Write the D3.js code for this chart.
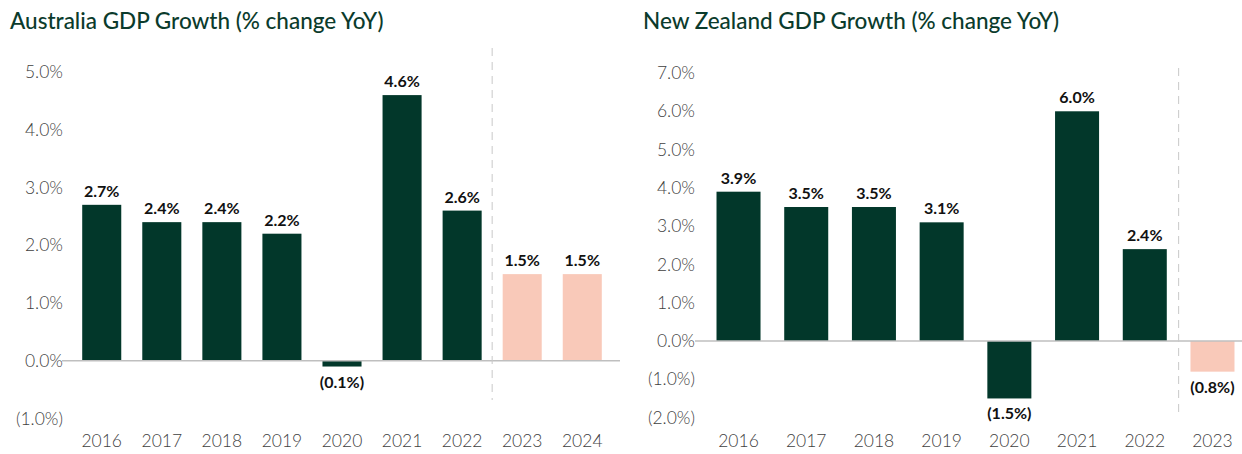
<!DOCTYPE html>
<html>
<head>
<meta charset="utf-8">
<script src="https://cdn.jsdelivr.net/npm/d3@7"></script>
<style>
  body { margin: 0; background: #fff; }
  svg text { font-family: Lato, "Open Sans", sans-serif; }
</style>
</head>
<body>
<div id="chart"></div>
<script>
// Australia
let auYears = ['2016', '2017', '2018', '2019', '2020', '2021', '2022', '2023', '2024'];
let auValues = [2.7, 2.4, 2.4, 2.2, -0.1, 4.6, 2.6, 1.5, 1.5];
let auForecast = [false, false, false, false, false, false, false, true, true];
let auTicks = [-1, 0, 1, 2, 3, 4, 5];

// New Zealand
let nzYears = ['2016', '2017', '2018', '2019', '2020', '2021', '2022', '2023'];
let nzValues = [3.9, 3.5, 3.5, 3.1, -1.5, 6.0, 2.4, -0.8];
let nzForecast = [false, false, false, false, false, false, false, true];
let nzTicks = [-2, -1, 0, 1, 2, 3, 4, 5, 6, 7];

const darkGreen = '#02372a';
const peach = '#f9c9b9';

let width = 1242;
let height = 454;

let svg = d3.select('#chart').append('svg')
            .attr('width', width)
            .attr('height', height);

function fmt(v) {
    let s = Math.abs(v).toFixed(1) + '%';
    return v < 0 ? '(' + s + ')' : s;
}

function drawChart(opts) {
    let g = svg.append('g');

    g.append('text')
        .attr('x', opts.titleX)
        .attr('y', 29)
        .attr('font-size', 22.5)
        .attr('font-weight', 500)
        .attr('fill', '#0b3b2c')
        .text(opts.title);

    let x = d3.scaleBand()
              .domain(opts.years)
              .range([opts.left, opts.right])
              .paddingInner(0.35)
              .paddingOuter(0.17);

    let y = d3.scaleLinear()
              .domain([opts.ticks[0], opts.ticks[opts.ticks.length - 1]])
              .range([opts.bottom, opts.top]);

    // y tick labels
    g.selectAll('.ytick')
        .data(opts.ticks)
        .join('text')
        .attr('x', opts.labelX)
        .attr('y', d => y(d))
        .attr('dy', '0.35em')
        .attr('text-anchor', 'end')
        .attr('font-size', 17.5)
        .attr('font-weight', 300)
        .attr('fill', '#3f3f3f')
        .text(d => fmt(d));

    // x labels
    g.selectAll('.xtick')
        .data(opts.years)
        .join('text')
        .attr('x', d => x(d) + x.bandwidth() / 2)
        .attr('y', 447)
        .attr('text-anchor', 'middle')
        .attr('font-size', 17.5)
        .attr('font-weight', 300)
        .attr('fill', '#3f3f3f')
        .text(d => d);

    // bars
    g.selectAll('.bar')
        .data(opts.values)
        .join('rect')
        .attr('x', (d, i) => x(opts.years[i]))
        .attr('width', x.bandwidth())
        .attr('y', d => y(Math.max(0, d)))
        .attr('height', d => Math.abs(y(d) - y(0)))
        .attr('fill', (d, i) => opts.forecast[i] ? peach : darkGreen);

    // zero line
    g.append('line')
        .attr('x1', opts.left - 10)
        .attr('x2', opts.right + 8)
        .attr('y1', y(0))
        .attr('y2', y(0))
        .attr('stroke', '#bfbfbf')
        .attr('stroke-width', 1.5);

    // forecast divider
    let firstF = opts.forecast.indexOf(true);
    let divX = (x(opts.years[firstF - 1]) + x.bandwidth() + x(opts.years[firstF])) / 2;
    g.append('line')
        .attr('x1', divX)
        .attr('x2', divX)
        .attr('y1', opts.dashTop)
        .attr('y2', opts.dashBottom)
        .attr('stroke', '#c8c8c8')
        .attr('stroke-width', 1)
        .attr('stroke-dasharray', '8,6');

    // value labels
    g.selectAll('.val')
        .data(opts.values)
        .join('text')
        .attr('x', (d, i) => x(opts.years[i]) + x.bandwidth() / 2)
        .attr('y', d => d >= 0 ? y(d) - 8 : y(d) + 21)
        .attr('text-anchor', 'middle')
        .attr('font-size', 16)
        .attr('font-weight', 700)
        .attr('fill', '#111')
        .text(d => fmt(d));
}

drawChart({
    title: 'Australia GDP Growth (% change YoY)',
    titleX: 10,
    years: auYears,
    values: auValues,
    forecast: auForecast,
    ticks: auTicks,
    left: 72,
    right: 612,
    top: 72,
    bottom: 418.5,
    labelX: 63,
    dashTop: 48,
    dashBottom: 400
});

drawChart({
    title: 'New Zealand GDP Growth (% change YoY)',
    titleX: 643,
    years: nzYears,
    values: nzValues,
    forecast: nzForecast,
    ticks: nzTicks,
    left: 705,
    right: 1246,
    top: 73,
    bottom: 417.6,
    labelX: 695,
    dashTop: 68,
    dashBottom: 418
});
</script>
</body>
</html>
